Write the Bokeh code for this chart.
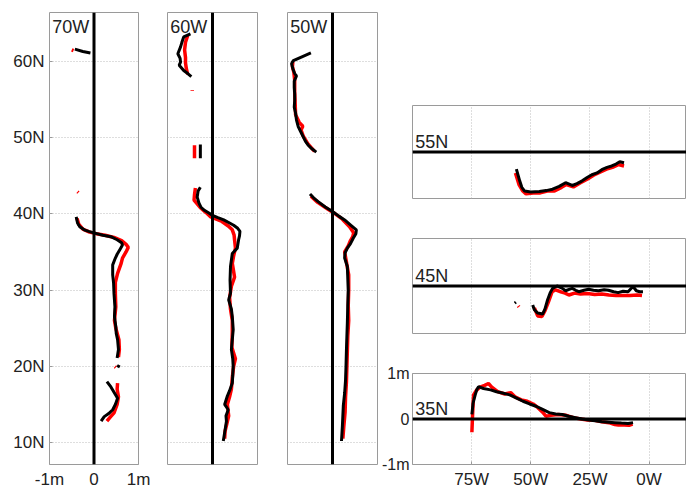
from bokeh.plotting import figure
from bokeh.layouts import row, column
from bokeh.models import Span, Label, FixedTicker, Range1d
from bokeh.embed import file_html
from bokeh.resources import INLINE

NaN = float("nan")

# ---------------- data ----------------
# meridional sections: latitude (deg N) and anomaly (m)
w70_black_lat = [61.6, 61.3, 61.1, NaN,
                 39.6, 38.8, 38.3, 37.9, 37.7, 37.5, 37.2, 37.0, 36.6, 36.2, 35.9, 35.3, 34.7, 34.2, 33.3,
                 32.0, 30.9, 29.5, 27.8, 26.5, 25.2, 24.3, 23.5, 22.2, 21.1, NaN,
                 20.1, 19.9, NaN,
                 18.0, 17.3, 16.5, 15.8, 15.0, 14.3, 13.8, 13.4, 12.8]
w70_black_val = [-0.43, -0.25, -0.08, NaN,
                 -0.40, -0.37, -0.32, -0.22, -0.12, 0.0, 0.20, 0.38, 0.52, 0.62, 0.64, 0.58, 0.52, 0.48, 0.42,
                 0.42, 0.44, 0.45, 0.47, 0.46, 0.49, 0.50, 0.53, 0.55, 0.52, NaN,
                 0.52, 0.58, NaN,
                 0.29, 0.38, 0.46, 0.53, 0.48, 0.42, 0.33, 0.23, 0.16]
w70_red_lat = [61.5, 61.4, NaN, 42.9, 42.8, NaN,
               39.4, 38.6, 38.0, 37.6, 37.4, 37.2, 36.9, 36.5, 36.0, 35.6, 35.0, 34.2, 33.5, 32.2,
               31.0, 29.5, 27.8, 26.0, 25.0, 23.5, 22.2, 21.2, NaN,
               19.95, 19.85, NaN,
               17.8, 17.0, 16.0, 15.0, 13.9, 13.3, 12.8]
w70_red_val = [-0.50, -0.46, NaN, -0.37, -0.35, NaN,
               -0.38, -0.34, -0.25, -0.10, 0.05, 0.25, 0.45, 0.62, 0.72, 0.77, 0.72, 0.64, 0.61, 0.53,
               0.48, 0.48, 0.49, 0.46, 0.49, 0.56, 0.57, 0.55, NaN,
               0.47, 0.49, NaN,
               0.53, 0.52, 0.55, 0.52, 0.45, 0.36, 0.29]

w60_black_lat = [63.6, 63.2, 62.5, 61.9, 61.0, 60.4, 59.9, 59.5, 58.8, 58.4, 58.0, NaN,
                 49.1, 47.3, NaN,
                 43.5, 43.0, 42.2, 41.4, 40.9, 40.5, 40.1, 39.8, 39.5, 39.2, 38.8, 38.5, 38.1, 37.7,
                 37.1, 36.6, 35.5, 34.8, 33.1, 31.3, 29.6, 28.7, 27.5, 26.5, 24.8, 23.5, 22.2, 21.0,
                 20.0, 18.8, 17.8, 16.8, 16.1, 15.0, 14.3, 13.5, 12.8, 11.3, 10.2]
w60_black_val = [-0.49, -0.64, -0.68, -0.71, -0.77, -0.72, -0.71, -0.74, -0.64, -0.55, -0.47, NaN,
                 -0.27, -0.27, NaN,
                 -0.27, -0.32, -0.34, -0.30, -0.26, -0.19, -0.08, 0.0, 0.12, 0.25, 0.38, 0.47, 0.56, 0.61,
                 0.60, 0.58, 0.55, 0.44, 0.40, 0.39, 0.40, 0.36, 0.42, 0.44, 0.46, 0.44, 0.42, 0.45,
                 0.46, 0.45, 0.44, 0.38, 0.33, 0.27, 0.35, 0.30, 0.31, 0.27, 0.24]
w60_red_lat = [63.4, 62.5, 61.5, 60.5, 59.8, 59.0, 58.3, NaN,
               56.25, 56.15, NaN,
               49.0, 47.3, NaN,
               43.4, 42.5, 41.8, 40.8, 40.2, 39.6, 39.0, 38.4, 37.9, 37.2, 36.6, 35.5, 34.5, 33.5,
               31.7, 30.5, 29.0, 27.5, 26.0, 24.5, 22.5, 21.0, 20.0, 18.5, 17.0, 16.0, 15.0, 13.5,
               12.5, 11.5, 10.5]
w60_red_val = [-0.55, -0.60, -0.62, -0.60, -0.60, -0.58, -0.55, NaN,
               -0.45, -0.45, NaN,
               -0.40, -0.40, NaN,
               -0.38, -0.40, -0.41, -0.27, -0.15, -0.04, 0.21, 0.35, 0.44, 0.48, 0.49, 0.51, 0.47, 0.44,
               0.49, 0.42, 0.38, 0.40, 0.44, 0.44, 0.43, 0.51, 0.47, 0.44, 0.42, 0.38, 0.33, 0.36,
               0.32, 0.28, 0.27]

w50_black_lat = [61.1, 60.6, 60.1, 59.7, 59.0, 58.4, 58.1, 57.4, 56.6, 55.7, 54.9, 54.0, 53.2, 52.3,
                 51.4, 50.7, 50.1, 49.5, 49.0, 48.5, 48.1, NaN,
                 42.6, 42.1, 41.6, 40.9, 40.3, 39.7, 39.2, 38.5, 37.9, 37.4, 36.8, 36.1, 35.5, 34.9,
                 34.2, 33.1, 31.5, 30.0, 28.0, 25.7, 24.0, 22.2, 20.0, 18.2, 16.5, 14.8, 13.5, 12.2, 10.2]
w50_black_val = [-0.48, -0.68, -0.87, -0.91, -0.88, -0.84, -0.80, -0.85, -0.85, -0.84, -0.84, -0.85, -0.82, -0.80,
                 -0.76, -0.70, -0.65, -0.60, -0.54, -0.45, -0.36, NaN,
                 -0.50, -0.42, -0.32, -0.16, 0.0, 0.14, 0.27, 0.41, 0.53, 0.52, 0.46, 0.40, 0.33, 0.28,
                 0.27, 0.33, 0.34, 0.35, 0.34, 0.33, 0.32, 0.31, 0.30, 0.29, 0.27, 0.24, 0.23, 0.22, 0.20]
w50_red_lat = [60.0, 59.3, 58.6, 57.5, 56.0, 54.5, 53.0, 52.0, 51.5, 51.0, 50.2, 49.2, 48.2, NaN,
               42.3, 41.5, 40.6, 40.0, 39.3, 38.3, 37.5, 37.0, 36.5, 35.8, 35.0, 34.0, 32.0, 30.0,
               28.0, 26.0, 24.0, 22.0, 20.0, 18.0, 16.0, 14.0, 12.0, 10.5]
w50_red_val = [-0.88, -0.89, -0.86, -0.84, -0.84, -0.83, -0.82, -0.74, -0.66, -0.70, -0.65, -0.55, -0.40, NaN,
               -0.48, -0.33, -0.10, 0.06, 0.22, 0.38, 0.47, 0.45, 0.40, 0.35, 0.27, 0.30, 0.36, 0.36,
               0.35, 0.36, 0.34, 0.33, 0.32, 0.31, 0.29, 0.28, 0.25, 0.23]

# zonal sections: longitude (deg E, negative = W) and anomaly (m)
n55_black_lon = [-56.1, -54.7, -53.8, -52.6, -50.0, -46.4, -43.5, -40.8, -38.0, -35.3, -32.5, -30.5,
                 -28.3, -26.2, -24.2, -22.0, -20.0, -17.8, -15.8, -14.0, -12.4, -10.6]
n55_black_val = [-0.37, -0.62, -0.76, -0.84, -0.86, -0.85, -0.83, -0.80, -0.74, -0.66, -0.72, -0.68,
                 -0.62, -0.55, -0.49, -0.45, -0.38, -0.33, -0.30, -0.26, -0.21, -0.23]
n55_red_lon = [-56.5, -55.0, -53.5, -52.0, -49.0, -46.0, -43.0, -40.0, -37.0, -35.0, -32.0, -29.0,
               -26.0, -23.5, -21.0, -18.0, -15.5, -13.0, -10.6]
n55_red_val = [-0.45, -0.70, -0.83, -0.90, -0.88, -0.88, -0.84, -0.84, -0.76, -0.70, -0.75, -0.66,
               -0.58, -0.50, -0.44, -0.37, -0.33, -0.27, -0.30]

n45_black_lon = [-56.8, -56.3, NaN,
                 -49.2, -48.5, -47.1, -45.0, -44.0, -42.9, -41.8, -40.8, -38.9, -37.0, -35.3, -33.8,
                 -32.5, -31.0, -29.7, -27.5, -25.6, -23.5, -21.4, -19.0, -17.2, -15.0, -13.1, -11.0,
                 -8.9, -6.8, -5.4, -4.0, -2.6]
n45_black_val = [-0.36, -0.34, NaN,
                 -0.40, -0.50, -0.57, -0.59, -0.48, -0.29, -0.14, -0.05, 0.0, -0.04, -0.10, -0.07,
                 -0.05, -0.09, -0.12, -0.09, -0.07, -0.09, -0.10, -0.08, -0.09, -0.12, -0.14, -0.11,
                 -0.12, -0.01, -0.10, -0.12, -0.12]
n45_red_lon = [-55.3, -55.0, NaN,
               -48.5, -47.1, -45.3, -44.0, -42.5, -41.0, -39.5, -37.0, -35.5, -33.9, -31.5, -29.0,
               -26.0, -23.0, -20.0, -17.0, -14.0, -11.0, -8.0, -5.0, -3.0]
n45_red_val = [-0.42, -0.44, NaN,
               -0.46, -0.63, -0.64, -0.52, -0.33, -0.12, -0.08, -0.13, -0.15, -0.19, -0.15, -0.17,
               -0.16, -0.18, -0.17, -0.19, -0.20, -0.20, -0.20, -0.19, -0.20]

n35_black_lon = [-74.9, -74.4, -73.5, -72.8, -72.1, -71.0, -70.0, -67.0, -64.5, -62.0, -58.9, -56.0,
                 -53.3, -50.5, -47.8, -45.0, -42.2, -39.5, -36.7, -34.0, -31.1, -28.3, -25.6, -22.8,
                 -20.0, -17.2, -14.4, -11.7, -8.9, -6.8]
n35_black_val = [0.10, 0.35, 0.53, 0.65, 0.71, 0.69, 0.67, 0.64, 0.60, 0.57, 0.53, 0.46,
                 0.39, 0.33, 0.28, 0.21, 0.14, 0.11, 0.10, 0.06, 0.03, 0.0, -0.02, -0.04,
                 -0.06, -0.07, -0.08, -0.09, -0.10, -0.08]
n35_red_lon = [-74.9, -74.6, -74.2, -73.0, -71.5, -69.5, -67.9, -66.5, -64.0, -61.0, -58.5, -56.5,
               -54.0, -51.5, -49.0, -47.0, -45.0, -43.6, -41.5, -38.5, -35.0, -32.0, -29.0, -26.0,
               -23.0, -20.0, -17.0, -14.5, -13.0, -10.5, -8.5, -7.0]
n35_red_val = [-0.29, 0.10, 0.53, 0.63, 0.70, 0.74, 0.78, 0.70, 0.60, 0.55, 0.58, 0.48,
               0.42, 0.39, 0.33, 0.25, 0.15, 0.06, 0.08, 0.10, 0.08, 0.03, 0.0, -0.02,
               -0.03, -0.06, -0.08, -0.12, -0.13, -0.13, -0.14, -0.11]

lat_ticks = [10, 20, 30, 40, 50, 60]
lat_labels = ["10N", "20N", "30N", "40N", "50N", "60N"]
m_ticks = [-1, 0, 1]
m_labels = ["-1m", "0", "1m"]
lon_ticks = [-75, -50, -25, 0]
lon_labels = ["75W", "50W", "25W", "0W"]

# ---------------- styling ----------------
FONT = "Liberation Sans"
TXT = "#222222"
FRAME = "#9a9a9a"
GRID = "#bdbdbd"


def style_common(p):
    p.outline_line_color = FRAME
    p.outline_line_width = 1
    p.background_fill_color = "white"
    p.border_fill_color = "white"
    for ax in p.axis:
        ax.axis_line_color = None
        ax.major_tick_line_color = FRAME
        ax.major_tick_in = 3
        ax.major_tick_out = 0
        ax.minor_tick_line_color = None
        ax.major_label_text_font = FONT
        ax.major_label_text_font_size = "17px"
        ax.major_label_text_color = TXT


def vpanel(width, bl, br, name, blat, bval, rlat, rval, show_y, show_x):
    p = figure(width=width, height=491, min_border_left=bl, min_border_right=br,
               min_border_top=12, min_border_bottom=26,
               x_range=Range1d(-1, 1), y_range=Range1d(7.12, 66.41),
               output_backend="svg", toolbar_location=None, title=None, tools="")
    style_common(p)
    p.yaxis.ticker = FixedTicker(ticks=lat_ticks)
    p.yaxis.major_label_overrides = dict(zip(lat_ticks, lat_labels))
    p.yaxis.major_label_standoff = 5
    p.xaxis.ticker = FixedTicker(ticks=m_ticks)
    p.xaxis.major_label_overrides = dict(zip(m_ticks, m_labels))
    p.xaxis.major_label_standoff = 5
    p.yaxis.visible = show_y
    p.xaxis.visible = show_x
    p.xgrid.visible = False
    p.ygrid.grid_line_color = GRID
    p.ygrid.grid_line_dash = "1 2"
    p.ygrid.grid_line_width = 1
    p.add_layout(Span(location=0, dimension="height", line_color="black", line_width=3))
    p.line(rval, rlat, line_color="red", line_width=3.5)
    p.line(bval, blat, line_color="black", line_width=3)
    p.add_layout(Label(x=-0.94, y=65.85, text=name, text_font=FONT, text_font_size="18px",
                       text_color=TXT, text_align="left", text_baseline="top"))
    return p


def hpanel(height, bt, bb, name, blon, bval, rlon, rval, show_axes):
    p = figure(width=308, height=height, min_border_left=31, min_border_right=0,
               min_border_top=bt, min_border_bottom=bb,
               x_range=Range1d(-100, 15.8), y_range=Range1d(-1, 1),
               output_backend="svg", toolbar_location=None, title=None, tools="")
    style_common(p)
    p.xaxis.ticker = FixedTicker(ticks=lon_ticks)
    p.xaxis.major_label_overrides = dict(zip(lon_ticks, lon_labels))
    p.xaxis.major_label_standoff = 5
    p.yaxis.ticker = FixedTicker(ticks=m_ticks)
    p.yaxis.major_label_overrides = dict(zip(m_ticks, m_labels))
    p.yaxis.major_label_standoff = 3
    p.yaxis.major_label_text_font_size = "16px"
    p.xaxis.visible = show_axes
    p.yaxis.visible = show_axes
    p.ygrid.visible = False
    p.xgrid.grid_line_color = GRID
    p.xgrid.grid_line_dash = "1 2"
    p.xgrid.grid_line_width = 1
    p.add_layout(Span(location=0, dimension="width", line_color="black", line_width=3))
    p.line(rlon, rval, line_color="red", line_width=3.5)
    p.line(blon, bval, line_color="black", line_width=3)
    p.add_layout(Label(x=-98.8, y=0.22, text=name, text_font=FONT, text_font_size="18px",
                       text_color=TXT, text_align="left", text_baseline="alphabetic"))
    return p


f70 = vpanel(153, 49, 15, "70W", w70_black_lat, w70_black_val, w70_red_lat, w70_red_val, True, True)
f60 = vpanel(119, 14, 15, "60W", w60_black_lat, w60_black_val, w60_red_lat, w60_red_val, False, False)
f50 = vpanel(106, 15, 1, "50W", w50_black_lat, w50_black_val, w50_red_lat, w50_red_val, False, False)

f55 = hpanel(218, 105, 20, "55N", n55_black_lon, n55_black_val, n55_red_lon, n55_red_val, False)
f45 = hpanel(135, 20, 20, "45N", n45_black_lon, n45_black_val, n45_red_lon, n45_red_val, False)
f35 = hpanel(138, 20, 25, "35N", n35_black_lon, n35_black_val, n35_red_lon, n35_red_val, True)

layout = row(f70, f60, f50, column(f55, f45, f35, spacing=0), spacing=0)

open("out.html", "w").write(file_html(layout, INLINE))
